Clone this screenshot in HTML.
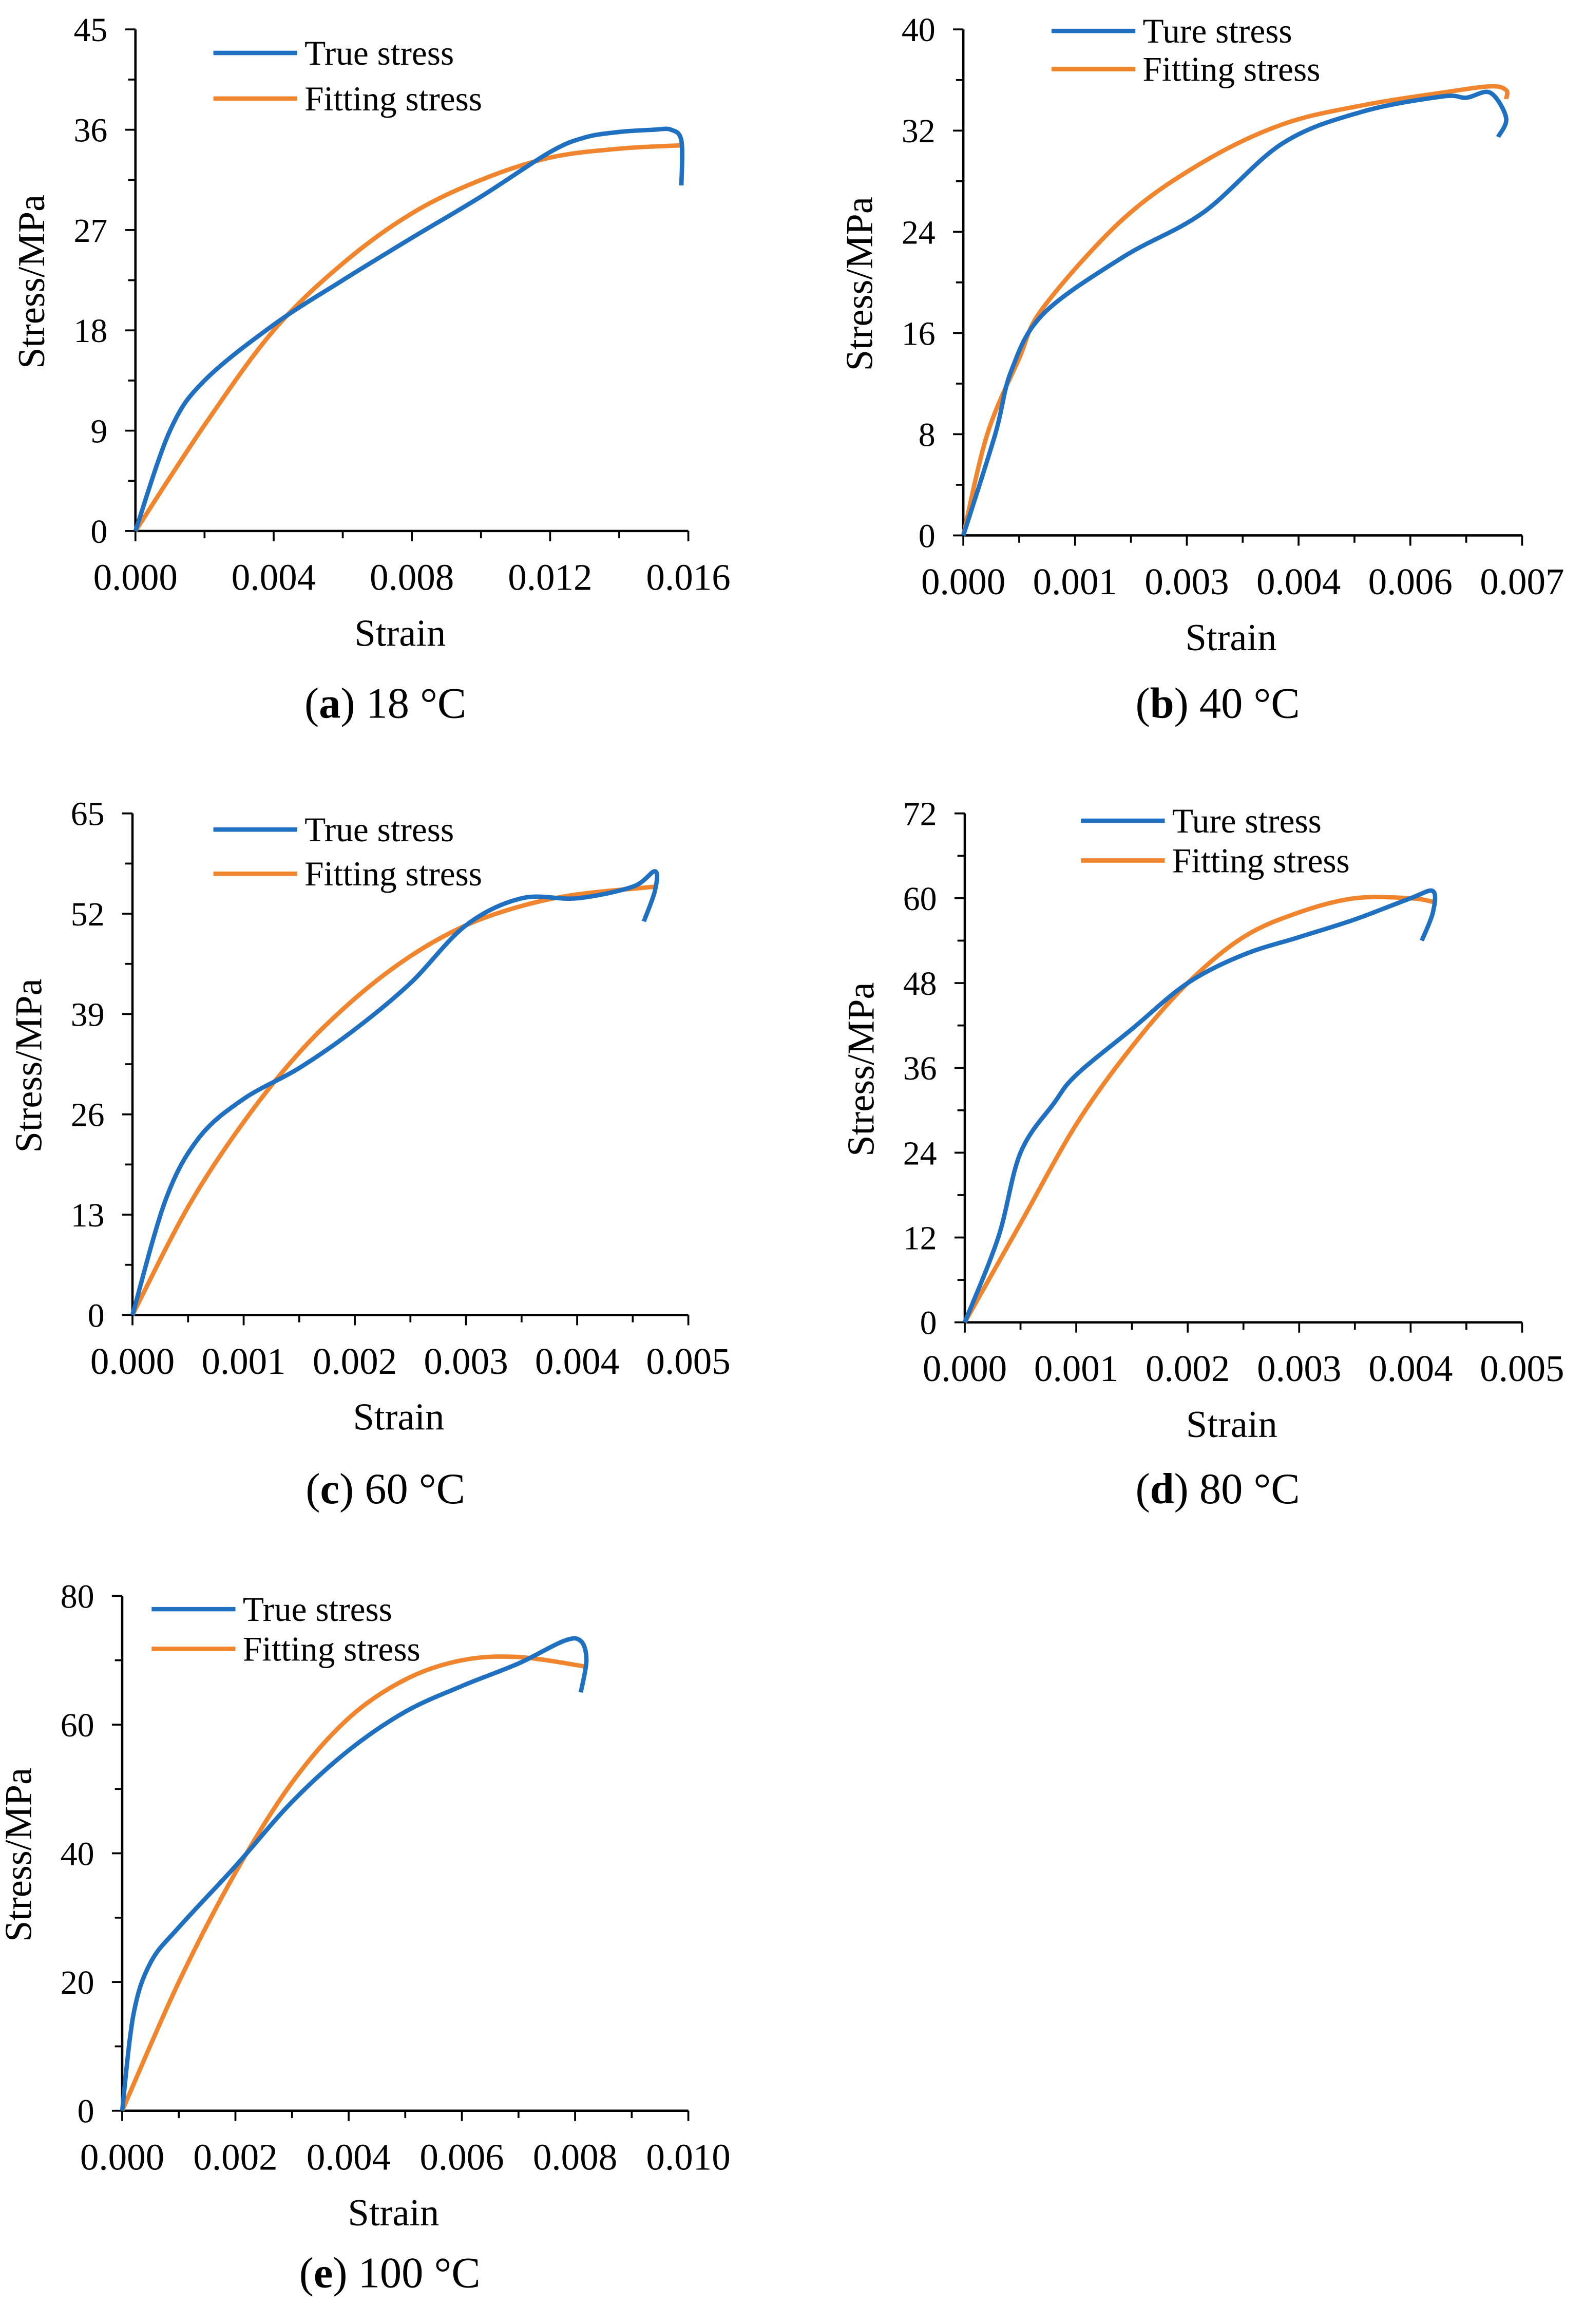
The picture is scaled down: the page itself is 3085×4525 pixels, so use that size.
<!DOCTYPE html>
<html><head><meta charset="utf-8">
<style>
html,body{margin:0;padding:0;background:#fff;}
svg{display:block;}
text{font-family:"Liberation Serif",serif;fill:#000;}
</style></head>
<body>
<svg id="chart" width="3085" height="4525" viewBox="0 0 1077 1580" xmlns="http://www.w3.org/2000/svg"></svg>
<script>
// ---- data ----
const aTrueX=[0,0.001,0.002,0.004,0.006,0.008,0.010,0.012,0.013,0.014,0.015,0.0155,0.0158,0.0158];
const aTrueY=[0,9,13.5,18.5,22.5,26.3,30,34,35.3,35.8,36,36,35,31];
const aFitX=[0,0.002,0.004,0.006,0.008,0.010,0.012,0.014,0.0158];
const aFitY=[0,9.5,18,24,28.5,31.5,33.5,34.3,34.6];
const bTrueX=[0,0.0004,0.0006,0.001,0.002,0.003,0.004,0.005,0.006,0.0063,0.0066,0.0068,0.0067];
const bTrueY=[0,8,13,17.5,22,25.5,31,33.5,34.7,34.6,35,33,31.5];
const bFitX=[0,0.0003,0.0007,0.001,0.002,0.003,0.004,0.005,0.006,0.0066,0.0068,0.0068];
const bFitY=[0,8,14,18,25,29.5,32.5,34,35,35.5,35.2,34.5];
const cTrueX=[0,0.0003,0.0006,0.001,0.0015,0.002,0.0025,0.003,0.0035,0.004,0.0045,0.0047,0.0047,0.0046];
const cTrueY=[0,15,23,28,32,37,43,50.5,54,54,55.5,57.5,55,51];
const cFitX=[0,0.0005,0.001,0.0015,0.002,0.0025,0.003,0.0035,0.004,0.0047];
const cFitY=[0,14,25,34,41,46.5,50.5,53,54.5,55.5];
const dTrueX=[0,0.0003,0.0005,0.0008,0.001,0.0015,0.002,0.0025,0.003,0.0035,0.004,0.0042,0.0042,0.0041];
const dTrueY=[0,12,24,31,35,41.5,48,52,54.5,57,60,61,58,54];
const dFitX=[0,0.0005,0.001,0.0015,0.002,0.0025,0.003,0.0035,0.004,0.0042];
const dFitY=[0,14,28,39,48,54.5,58,60,60,59.5];
const eTrueX=[0,0.0002,0.0005,0.001,0.002,0.003,0.004,0.005,0.006,0.007,0.0078,0.0081,0.0082,0.0081];
const eTrueY=[0,15,23,28.5,38,48,56,62,66,69.5,73,73,70,65];
const eFitX=[0,0.001,0.002,0.003,0.004,0.005,0.006,0.007,0.0082];
const eFitY=[0,20,37,51,61,67,70,70.5,69];
const aXTicks=["0.000","0.004","0.008","0.012","0.016"];
const bXTicks=["0.000","0.001","0.003","0.004","0.006","0.007"];
const cXTicks=["0.000","0.001","0.002","0.003","0.004","0.005"];
const dXTicks=["0.000","0.001","0.002","0.003","0.004","0.005"];
const eXTicks=["0.000","0.002","0.004","0.006","0.008","0.010"];
const aYTicks=["0","9","18","27","36","45"];
const bYTicks=["0","8","16","24","32","40"];
const cYTicks=["0","13","26","39","52","65"];
const dYTicks=["0","12","24","36","48","60","72"];
const eYTicks=["0","20","40","60","80"];

const NS="http://www.w3.org/2000/svg";
const svg=document.getElementById('chart');
function mk(tag,attrs,parent){const e=document.createElementNS(NS,tag);for(const k in attrs)e.setAttribute(k,attrs[k]);(parent||svg).appendChild(e);return e;}

function smooth(pts){
  let d="M"+pts[0][0]+","+pts[0][1];
  for(let i=0;i<pts.length-1;i++){
    const p0=pts[Math.max(0,i-1)],p1=pts[i],p2=pts[i+1],p3=pts[Math.min(pts.length-1,i+2)];
    const c1=[p1[0]+(p2[0]-p0[0])/6,p1[1]+(p2[1]-p0[1])/6];
    const c2=[p2[0]-(p3[0]-p1[0])/6,p2[1]-(p3[1]-p1[1])/6];
    d+=" C"+c1[0]+","+c1[1]+" "+c2[0]+","+c2[1]+" "+p2[0]+","+p2[1];
  }
  return d;
}

function panel(p){
  const g=mk('g',{});
  
  
  const xMax=p.xMax,yMax=p.yMax;
  const sx=v=>p.x0+(v/xMax)*(p.x1-p.x0);
  const sy=v=>p.y0-(v/yMax)*(p.y0-p.y1);
  const ax=mk('line',{x1:p.x0,y1:p.y0,x2:p.x1,y2:p.y0,stroke:'#000','stroke-width':1.6},g);
  
  
  const ay=mk('line',{x1:p.x0,y1:p.y0,x2:p.x0,y2:p.y1,stroke:'#000','stroke-width':1.6},g);
  
  
  const nx=p.xt.length-1;
  for(let i=0;i<=nx*2;i++){
    const x=p.x0+(p.x1-p.x0)*i/(nx*2);
    mk('line',{x1:x,y1:p.y0,x2:x,y2:p.y0+(i%2?5:7),stroke:'#000','stroke-width':1.3},g);
  }
  p.xt.forEach((t,i)=>{
    const tx=mk('text',{x:p.x0+(p.x1-p.x0)*i/nx,y:p.y0+40,'text-anchor':'middle','font-size':25.5},g);
    tx.textContent=t;
    
    
  });
  const ny=p.yt.length-1;
  for(let i=0;i<=ny*2;i++){
    const y=p.y0-(p.y0-p.y1)*i/(ny*2);
    mk('line',{x1:p.x0,y1:y,x2:p.x0-(i%2?5:7),y2:y,stroke:'#000','stroke-width':1.3},g);
  }
  p.yt.forEach((t,i)=>{
    const ty=mk('text',{x:p.x0-19,y:p.y0-(p.y0-p.y1)*i/ny+8,'text-anchor':'end','font-size':23},g);
    ty.textContent=t;
    
    
  });
  const xl=mk('text',{x:(p.x0+p.x1)/2-8,y:p.y0+78,'text-anchor':'middle','font-size':26},g);
  xl.textContent='Strain';
  
  
  const yx=p.x0-62,yy=(p.y0+p.y1)/2+1;
  const yl=mk('text',{x:yx,y:yy,'text-anchor':'middle','font-size':26,transform:'rotate(-90 '+yx+' '+yy+')'},g);
  yl.textContent='Stress/MPa';
  
  
  const fit=mk('path',{d:smooth(p.fx.map((v,i)=>[sx(v),sy(p.fy[i])])),fill:'none',stroke:'#f0852d','stroke-width':3,'stroke-linejoin':'round'},g);
  
  
  const tru=mk('path',{d:smooth(p.tx.map((v,i)=>[sx(v),sy(p.ty[i])])),fill:'none',stroke:'#1f70c1','stroke-width':3,'stroke-linejoin':'round'},g);
  
  
  const l1=mk('g',{},g);
  
  
  mk('line',{x1:p.lx,y1:p.ly,x2:p.lx+57,y2:p.ly,stroke:'#1f70c1','stroke-width':3},l1);
  mk('text',{x:p.lx+62,y:p.ly+8,'font-size':23.5},l1).textContent=p.trueLabel;
  const l2=mk('g',{},g);
  
  
  mk('line',{x1:p.lx,y1:p.ly+p.lg,x2:p.lx+57,y2:p.ly+p.lg,stroke:'#f0852d','stroke-width':3},l2);
  mk('text',{x:p.lx+62,y:p.ly+p.lg+8,'font-size':23.5},l2).textContent='Fitting stress';
  const cap=mk('text',{x:p.cx,y:p.cy,'text-anchor':'middle','font-size':29.5},g);
  
  
  mk('tspan',{},cap).textContent='(';
  mk('tspan',{'font-weight':'bold'},cap).textContent=p.id;
  mk('tspan',{},cap).textContent=') '+p.temp;
}

panel({id:'a',x0:92,y0:361,x1:468,y1:20,xMax:0.016,yMax:45,xt:aXTicks,yt:aYTicks,tx:aTrueX,ty:aTrueY,fx:aFitX,fy:aFitY,lx:145,ly:36,lg:31,trueLabel:'True stress',cx:262,cy:488,temp:'18 °C'});
panel({id:'b',x0:655,y0:364,x1:1035,y1:20,xMax:0.007,yMax:40,xt:bXTicks,yt:bYTicks,tx:bTrueX,ty:bTrueY,fx:bFitX,fy:bFitY,lx:715,ly:21,lg:26,trueLabel:'Ture stress',cx:828,cy:488,temp:'40 °C'});
panel({id:'c',x0:90,y0:894,x1:468,y1:553,xMax:0.005,yMax:65,xt:cXTicks,yt:cYTicks,tx:cTrueX,ty:cTrueY,fx:cFitX,fy:cFitY,lx:145,ly:564,lg:30,trueLabel:'True stress',cx:262,cy:1022,temp:'60 °C'});
panel({id:'d',x0:656,y0:899,x1:1035,y1:553,xMax:0.005,yMax:72,xt:dXTicks,yt:dYTicks,tx:dTrueX,ty:dTrueY,fx:dFitX,fy:dFitY,lx:735,ly:558,lg:27,trueLabel:'Ture stress',cx:828,cy:1022,temp:'80 °C'});
panel({id:'e',x0:83,y0:1435,x1:468,y1:1085,xMax:0.010,yMax:80,xt:eXTicks,yt:eYTicks,tx:eTrueX,ty:eTrueY,fx:eFitX,fy:eFitY,lx:103,ly:1094,lg:27,trueLabel:'True stress',cx:265,cy:1555,temp:'100 °C'});
</script>
</body></html>
